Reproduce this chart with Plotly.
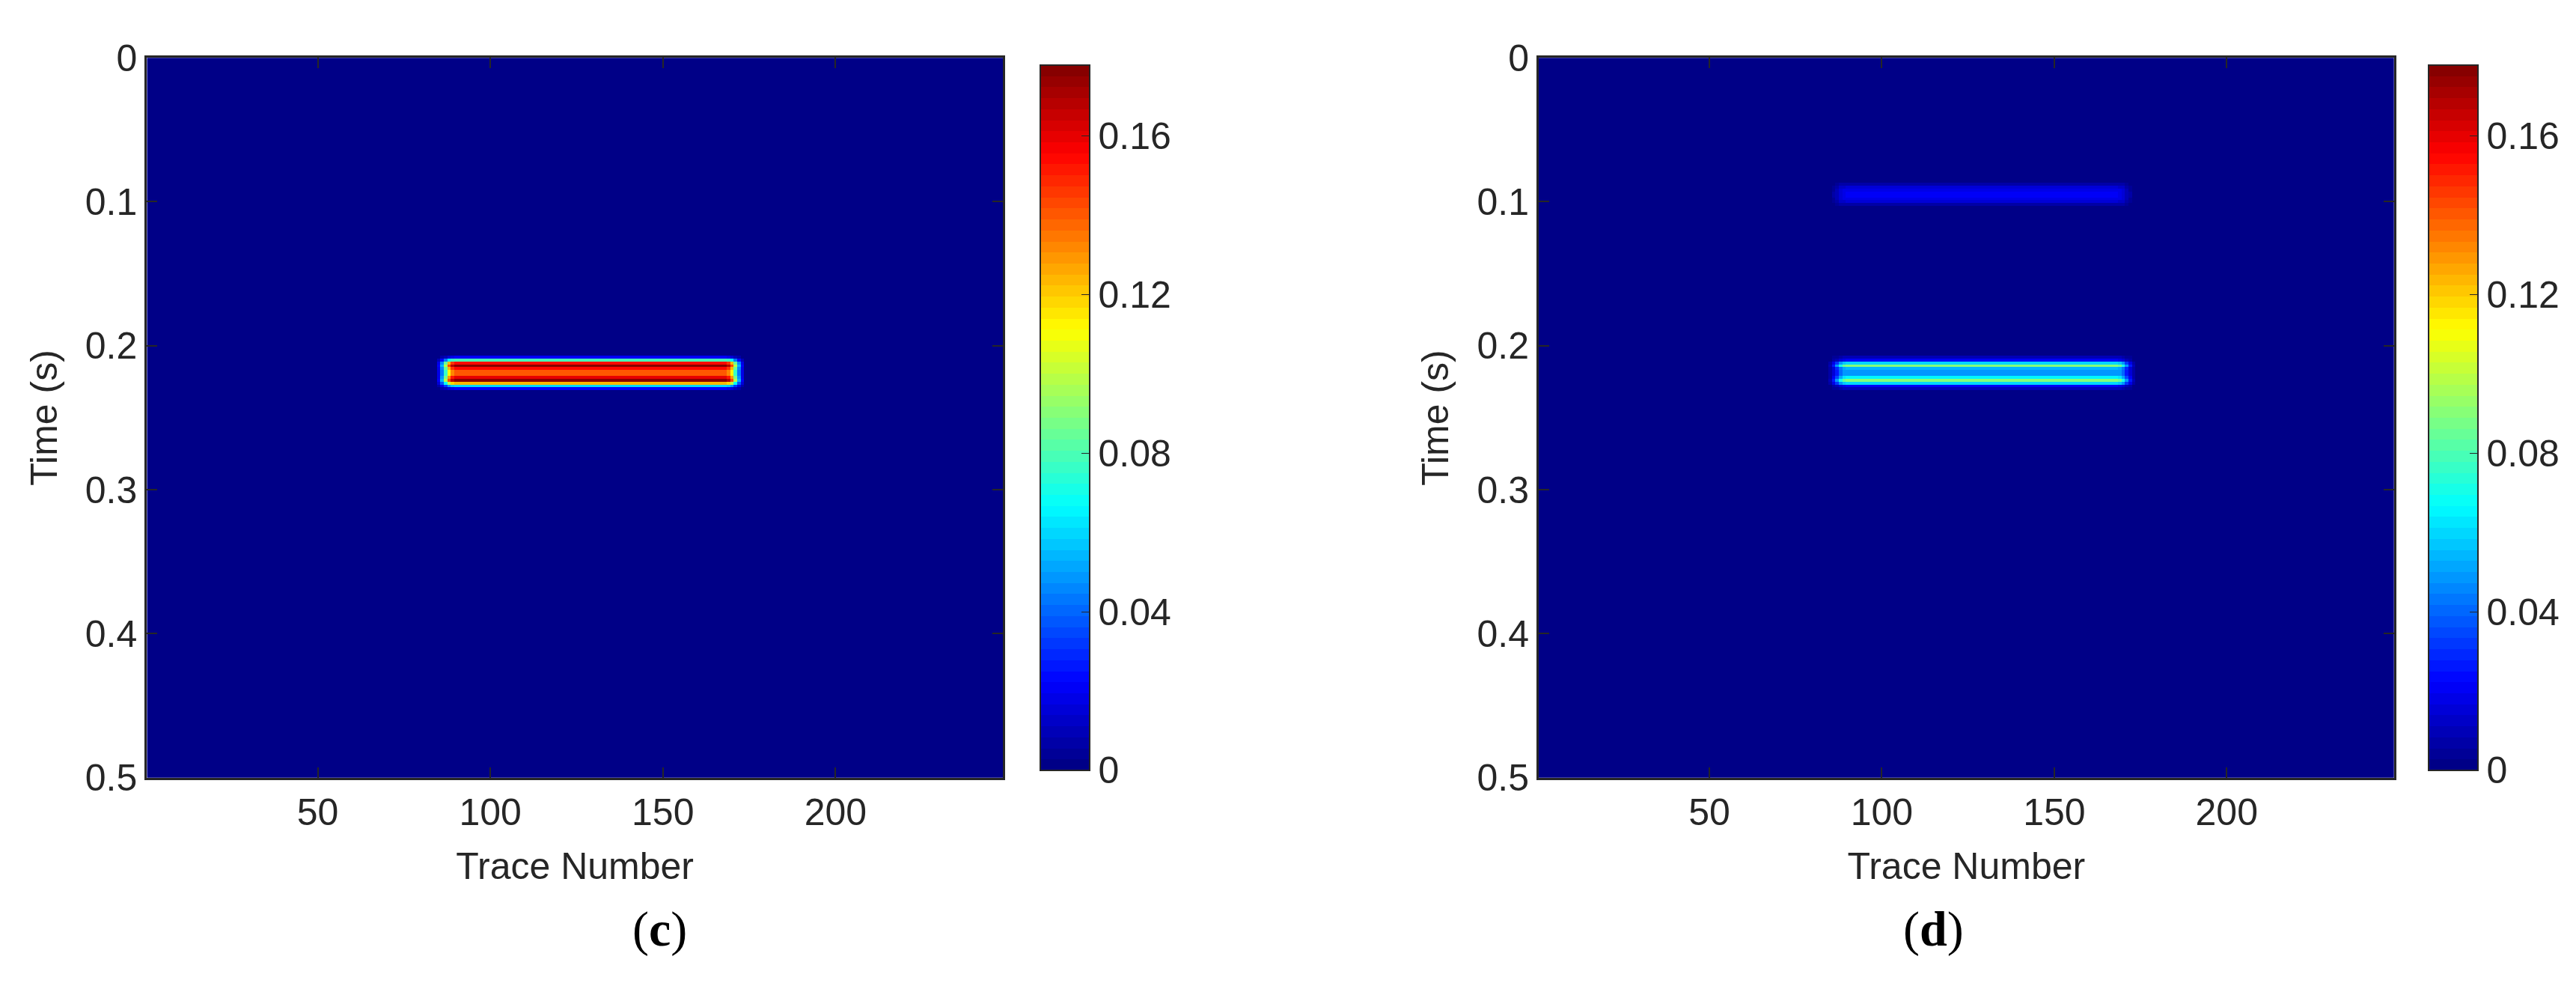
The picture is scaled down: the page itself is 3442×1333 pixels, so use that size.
import numpy as np
import plotly.graph_objects as go

# ---- data ----
n_traces = 248
dt = 0.002
n_samples = 251
event_first_trace = 85
event_last_trace = 173
edge_taper = [0.12, 0.3, 0.55, 0.8, 0.95]   # amplitude factor at the first/last traces of the events

# panel (c): time samples (s) and amplitude profile of the event
c_times = [0.208, 0.210, 0.212, 0.214, 0.216, 0.218, 0.220, 0.222, 0.224, 0.226, 0.228, 0.230]
c_values = [0.02, 0.08, 0.155, 0.178, 0.155, 0.14, 0.14, 0.16, 0.178, 0.125, 0.06, 0.02]

# panel (d): two events
d_times_low = [0.208, 0.210, 0.212, 0.214, 0.216, 0.218, 0.220, 0.222, 0.224, 0.226, 0.228, 0.230]
d_values_low = [0.01, 0.02, 0.06, 0.09, 0.055, 0.05, 0.05, 0.065, 0.09, 0.06, 0.02, 0.01]
d_times_up = [0.088, 0.090, 0.092, 0.094, 0.096, 0.098, 0.100, 0.102]
d_values_up = [0.008, 0.014, 0.018, 0.02, 0.02, 0.018, 0.014, 0.008]

x_ticks = [50, 100, 150, 200]
y_ticks = [0, 0.1, 0.2, 0.3, 0.4, 0.5]
cb_ticks = [0, 0.04, 0.08, 0.12, 0.16]
zmax = 0.178

traces = np.arange(1, n_traces + 1)
times = np.round(np.arange(n_samples) * dt, 4)

def trace_weights():
    w = np.zeros(n_traces)
    w[event_first_trace - 1:event_last_trace] = 1.0
    for i, a in enumerate(edge_taper):
        w[event_first_trace - 1 + i] = a
        w[event_last_trace - 1 - i] = a
    return w

def build(events):
    z = np.zeros((n_samples, n_traces))
    w = trace_weights()
    for ts, vs in events:
        for t, v in zip(ts, vs):
            r = int(round(t / dt))
            z[r, :] += v * w
    return z

zc = build([(c_times, c_values)])
zd = build([(d_times_low, d_values_low), (d_times_up, d_values_up)])

# MATLAB jet(64) discrete colorscale
def jet(v):
    r = np.clip(min(4 * v - 1.5, -4 * v + 4.5), 0, 1)
    g = np.clip(min(4 * v - 0.5, -4 * v + 3.5), 0, 1)
    b = np.clip(min(4 * v + 0.5, -4 * v + 2.5), 0, 1)
    return "rgb(%d,%d,%d)" % (r * 255, g * 255, b * 255)

N = 64
cs = []
for i in range(N):
    c = jet((i + 0.5) / N)
    cs.append([i / N, c])
    cs.append([(i + 1) / N, c])

font = dict(family="Liberation Sans, Arial", size=50, color="#262626")
fig = go.Figure()
dom_x = [[0.0547, 0.387], [0.595, 0.927]]
cb_x = [0.3985, 0.9376]
ydom = [0.214, 0.967]
for i, z in enumerate([zc, zd]):
    fig.add_trace(go.Heatmap(
        x=traces, y=times, z=z, zmin=0, zmax=zmax, colorscale=cs, zsmooth=False,
        xaxis="x" if i == 0 else "x2", yaxis="y" if i == 0 else "y2",
        colorbar=dict(x=cb_x[i], xanchor="left", y=ydom[0], yanchor="bottom",
                      len=ydom[1] - ydom[0], lenmode="fraction", thickness=66,
                      outlinewidth=2, outlinecolor="#262626",
                      tickvals=cb_ticks, ticktext=["0", "0.04", "0.08", "0.12", "0.16"],
                      ticks="inside", ticklen=12, tickcolor="#262626",
                      tickfont=font)))

axcommon = dict(showgrid=False, zeroline=False, showline=True, linecolor="#262626",
                linewidth=3, mirror="ticks", ticks="inside", ticklen=14,
                tickcolor="#262626", tickwidth=2, tickfont=font)
layout = dict(width=3442, height=1333, margin=dict(l=0, r=0, t=0, b=0),
              plot_bgcolor="white", paper_bgcolor="white", showlegend=False)
for i in range(2):
    sx = "" if i == 0 else "2"
    layout["xaxis" + sx] = dict(axcommon, domain=dom_x[i], range=[0.5, 248.5],
                                tickvals=x_ticks, anchor="y" + sx,
                                title=dict(text="Trace Number", font=font, standoff=28))
    layout["yaxis" + sx] = dict(axcommon, domain=ydom, range=[0.5, 0],
                                tickvals=y_ticks, ticktext=["0", "0.1", "0.2", "0.3", "0.4", "0.5"],
                                anchor="x" + sx,
                                title=dict(text="Time (s)", font=font, standoff=22))
fig.update_layout(**layout)
for lbl, px in [("c", 0.2426), ("d", 0.7606)]:
    fig.add_annotation(x=px, y=0.025, xref="paper", yref="paper", showarrow=False,
                       text="(<b>%s</b>)" % lbl,
                       font=dict(family="Liberation Serif, Times New Roman", size=66, color="black"))
fig.write_html("out.html")
